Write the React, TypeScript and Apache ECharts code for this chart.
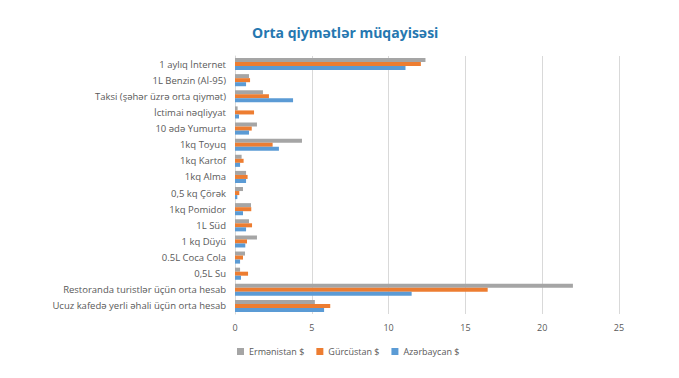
import React, { useEffect, useRef } from "react";
import * as echarts from "echarts";

const categories = [
  "1 aylıq İnternet",
  "1L Benzin (Aİ-95)",
  "Taksi (şəhər üzrə orta qiymət)",
  "İctimai nəqliyyat",
  "10 ədə Yumurta",
  "1kq Toyuq",
  "1kq Kartof",
  "1kq Alma",
  "0,5 kq Çörək",
  "1kq Pomidor",
  "1L Süd",
  "1 kq Düyü",
  "0.5L Coca Cola",
  "0,5L Su",
  "Restoranda turistlər üçün orta hesab",
  "Ucuz kafedə yerli əhali üçün orta hesab",
];

const armenia = [12.4, 0.91, 1.82, 0.17, 1.43, 4.36, 0.43, 0.72, 0.52, 1.04, 0.91, 1.43, 0.65, 0.33, 22.0, 5.2];
const georgia = [12.1, 0.98, 2.21, 1.24, 1.09, 2.45, 0.56, 0.82, 0.28, 1.06, 1.11, 0.78, 0.52, 0.85, 16.45, 6.2];
const azerbaijan = [11.1, 0.72, 3.78, 0.26, 0.91, 2.86, 0.33, 0.72, 0.15, 0.52, 0.72, 0.67, 0.33, 0.39, 11.5, 5.8];

const xTicks = { min: 0, max: 25, interval: 5 };

const FONT = "'Open Sans', sans-serif";

export default function App() {
  const ref = useRef<HTMLDivElement>(null);
  useEffect(() => {
    if (!ref.current) return;
    const chart = echarts.init(ref.current, null, { renderer: "svg" });
    const mk = (name: string, data: number[], color: string) => ({
      name,
      type: "bar",
      data,
      barGap: "0%",
      barCategoryGap: "25%",
      itemStyle: { color },
    });
    chart.setOption({
      animation: false,
      backgroundColor: "#ffffff",
      title: {
        text: "Orta qiymətlər müqayisəsi",
        left: 247,
        top: 20,
        textStyle: { color: "#2577B0", fontSize: 14, fontWeight: "bold", fontFamily: FONT },
      },
      legend: {
        data: ["Ermənistan $", "Gürcüstan $", "Azərbaycan $"],
        left: 232,
        top: 342,
        itemWidth: 7,
        itemHeight: 7,
        itemGap: 12,
        icon: "rect",
        textStyle: { color: "#595959", fontSize: 9, fontFamily: FONT },
      },
      grid: { left: 235, right: 60, top: 56, bottom: 64, containLabel: false },
      xAxis: {
        type: "value",
        min: xTicks.min,
        max: xTicks.max,
        interval: xTicks.interval,
        axisLine: { show: false },
        axisTick: { show: false },
        axisLabel: { color: "#595959", fontSize: 9, fontFamily: FONT, margin: 9 },
        splitLine: { lineStyle: { color: "#d9d9d9", width: 1 } },
      },
      yAxis: {
        type: "category",
        data: categories,
        inverse: true,
        axisLine: { show: true, lineStyle: { color: "#d9d9d9" } },
        axisTick: { show: false },
        axisLabel: { color: "#595959", fontSize: 9.5, fontFamily: FONT, margin: 9 },
      },
      series: [
        mk("Ermənistan $", armenia, "#A5A5A5"),
        mk("Gürcüstan $", georgia, "#ED7D31"),
        mk("Azərbaycan $", azerbaijan, "#5B9BD5"),
      ],
    });
    return () => chart.dispose();
  }, []);
  return <div ref={ref} style={{ width: 679, height: 378, position: "absolute", left: 0, top: 0 }} />;
}
